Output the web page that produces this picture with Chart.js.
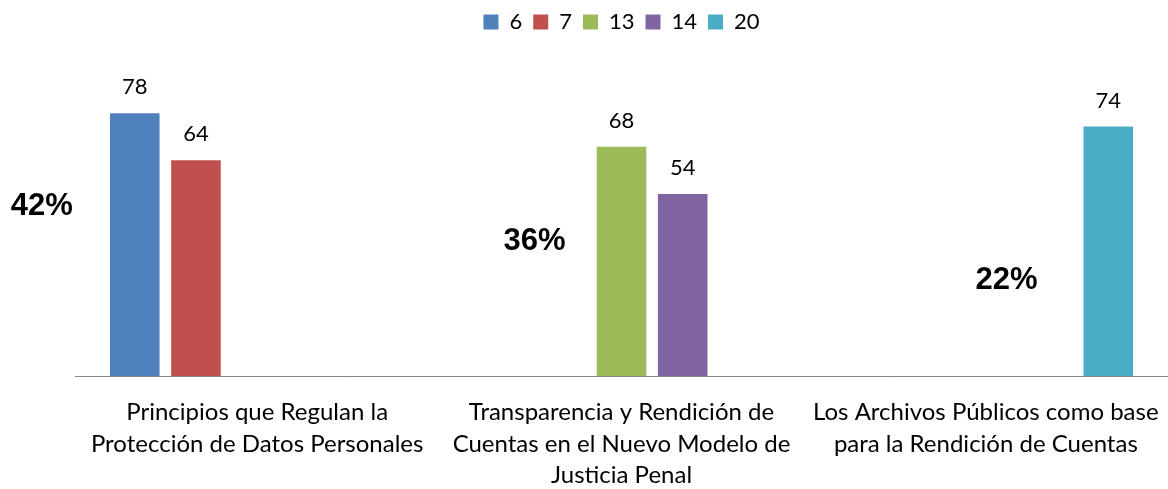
<!DOCTYPE html>
<html><head><meta charset="utf-8">
<script src="https://cdn.jsdelivr.net/npm/chart.js@4"></script>
<style>html,body{margin:0;padding:0;background:#fff}#wrap{width:1168px;height:489px}</style>
</head><body><div id="wrap"><canvas id="c" width="1168" height="489"></canvas></div>
<script>
const categories = [
  ["Principios que Regulan la", "Protección de Datos Personales"],
  ["Transparencia y Rendición de", "Cuentas en el Nuevo Modelo de", "Justicia Penal"],
  ["Los Archivos Públicos como base", "para la Rendición de Cuentas"]
];
const seriesNames = ["6", "7", "13", "14", "20"];
const s6 = [78, null, null];
const s7 = [64, null, null];
const s13 = [null, 68, null];
const s14 = [null, 54, null];
const s20 = [null, null, 74];
const percentLabels = ["42%", "36%", "22%"];

const colors = ["#4F81BD", "#C0504D", "#9BBB59", "#8064A2", "#4BACC6"];
const seriesData = [s6, s7, s13, s14, s20];

const legendHeight = {
  id: 'legendHeight',
  beforeInit(chart) {
    if (!chart.legend) return;
    const orig = chart.legend.fit;
    chart.legend.fit = function () { orig.call(this); this.height = 39; };
  }
};

const valueLabels = {
  id: 'valueLabels',
  afterDatasetsDraw(chart) {
    const ctx = chart.ctx;
    ctx.save();
    ctx.font = '22px Lato';
    ctx.fillStyle = '#000';
    ctx.textAlign = 'center';
    ctx.textBaseline = 'alphabetic';
    chart.data.datasets.forEach((ds, i) => {
      const meta = chart.getDatasetMeta(i);
      meta.data.forEach((el, j) => {
        const v = ds.data[j];
        if (v == null || !isFinite(el.y)) return;
        ctx.fillText(String(v), el.x, el.y - 19);
      });
    });
    ctx.restore();
  }
};

const pctLabels = {
  id: 'pctLabels',
  afterDatasetsDraw(chart, args, opts) {
    const ctx = chart.ctx;
    const xs = chart.scales.x, ys = chart.scales.y;
    ctx.save();
    ctx.font = 'bold 31px "Liberation Sans", Arial, sans-serif';
    ctx.fillStyle = '#000';
    ctx.textAlign = 'center';
    ctx.textBaseline = 'alphabetic';
    percentLabels.forEach((t, i) => {
      const x = xs.getPixelForValue(i + opts.xOffset[i]);
      const y = ys.getPixelForValue(opts.yValue[i]);
      ctx.fillText(t, x, y);
    });
    ctx.restore();
  }
};

new Chart(document.getElementById('c'), {
  type: 'bar',
  data: {
    labels: categories,
    datasets: seriesNames.map((n, i) => ({
      label: n,
      data: seriesData[i],
      backgroundColor: colors[i],
      borderWidth: 0,
      categoryPercentage: 0.84,
      barPercentage: 0.81
    }))
  },
  options: {
    responsive: false,
    devicePixelRatio: 1,
    animation: false,
    layout: { padding: { left: 75, right: 0, top: 0, bottom: 0 } },
    plugins: {
      legend: {
        position: 'top',
        labels: {
          boxWidth: 15, boxHeight: 15, padding: 11,
          color: '#000',
          font: { family: 'Lato', size: 22 }
        }
      },
      tooltip: { enabled: false },
      pctLabels: { xOffset: [-0.591, -0.239, 0.057], yValue: [47.8, 37.4, 25.8] }
    },
    scales: {
      x: {
        grid: { display: false, drawTicks: false },
        border: { display: true, color: '#868686', width: 1 },
        ticks: {
          color: '#000', padding: 21, maxRotation: 0, autoSkip: false,
          font: { family: 'Lato', size: 24, lineHeight: 1.3 }
        },
        afterFit(s) { s.height = 113; s.paddingLeft = 0; s.paddingRight = 0; }
      },
      y: { display: false, min: 0, max: 100 }
    }
  },
  plugins: [legendHeight, valueLabels, pctLabels]
});
</script>
</body></html>
